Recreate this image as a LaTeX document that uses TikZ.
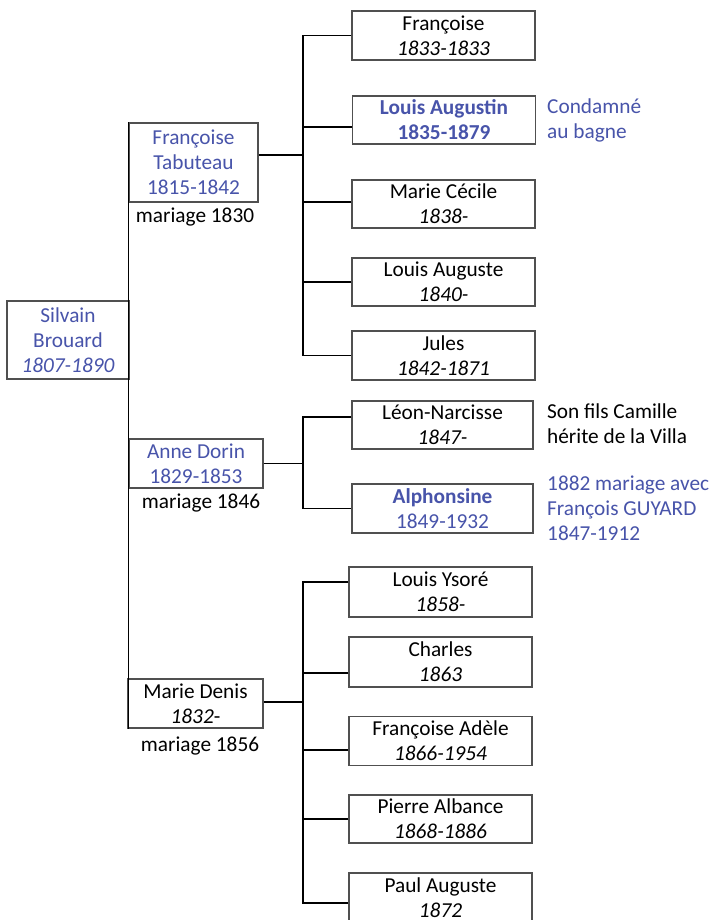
\documentclass[tikz,border=0pt]{standalone}
\usepackage{fontspec}
\setmainfont{Carlito}
\usetikzlibrary{calc}
\definecolor{nameblue}{RGB}{72,84,170}
\definecolor{boxgray}{RGB}{80,80,80}
\begin{document}
\begin{tikzpicture}[x=1pt,y=-1pt,
  pbox/.style={draw=boxgray, line width=1.1pt, fill=white, inner sep=0pt, align=flush center,
    font=\fontsize{21.3}{25}\selectfont},
  bx/.style 2 args={text width=#1pt, minimum height=#2pt},
  conn/.style={line width=1.8pt, black, line join=miter},
  note/.style={anchor=north west, align=flush left, inner sep=0pt, font=\fontsize{21.3}{25}\selectfont},
  marr/.style={inner sep=0pt, font=\fontsize{21.3}{25}\selectfont}]
\useasboundingbox (0,0) rectangle (712,920);
\fill[white] (0,0) rectangle (712,920);
\clip (0,0) rectangle (712,920);

% generation 1
\node[pbox, bx={122}{78}, text=nameblue] (silvain) at (68,340) {Silvain\\Brouard\\\textit{1807-1890}};

% spouses
\node[pbox, bx={129}{79}, text=nameblue] (ft) at (193.5,162.5) {Françoise\\Tabuteau\\1815-1842};
\node[pbox, bx={134}{49}, text=nameblue] (ad) at (196,463.5) {Anne Dorin\\1829-1853};
\node[pbox, bx={135}{49}] (md) at (195.5,703.5) {Marie Denis\\\textit{1832}-};

\node[marr] (m1) at (195,217) {mariage 1830};
\node[marr] (m2) at (201,503) {mariage 1846};
\node[marr] (m3) at (200,746) {mariage 1856};

% children of Françoise Tabuteau
\node[pbox, bx={183}{49}] (c1) at (443.5,35.5) {Françoise\\\textit{1833-1833}};
\node[pbox, bx={183}{48}, text=nameblue] (c2) at (444,120) {\bfseries Louis Augustin\\1835-1879};
\node[pbox, bx={183}{48}] (c3) at (443.5,204) {Marie Cécile\\\textit{1838-}};
\node[pbox, bx={183}{48}] (c4) at (443.5,282) {Louis Auguste\\\textit{1840-}};
\node[pbox, bx={183}{49}] (c5) at (443.5,355.5) {Jules\\\textit{1842-1871}};

% children of Anne Dorin
\node[pbox, bx={181}{48}] (c6) at (442.5,425) {Léon-Narcisse\\\textit{1847-}};
\node[pbox, bx={181}{49}, text=nameblue] (c7) at (442.5,508.5) {\textbf{Alphonsine}\\1849-1932};

% children of Marie Denis
\node[pbox, bx={183}{50}] (c8) at (440.5,592) {Louis Ysoré\\\textit{1858-}};
\node[pbox, bx={183}{50}] (c9) at (440.5,662) {Charles\\\textit{1863}};
\node[pbox, bx={183}{49}] (c10) at (440.5,741) {Françoise Adèle\\\textit{1866-1954}};
\node[pbox, bx={183}{48}] (c11) at (440.5,819) {Pierre Albance\\\textit{1868-1886}};
\node[pbox, bx={183}{49}] (c12) at (440.5,897.5) {Paul Auguste\\\textit{1872}};

% notes
\node[note, text=nameblue] (n1) at (547,99) {Condamné\\au bagne};
\node[note] (n2) at (547,404) {Son fils Camille\\hérite de la Villa};
\node[note, text=nameblue] (n3) at (547,476) {1882 mariage avec\\François GUYARD\\1847-1912};

% connectors
\coordinate (bx) at (303,0);
\draw[conn] (ft.north west) -- (ft.north west |- md.south);

\draw[conn] ([yshift=7.5pt]ft.east) -- ([yshift=7.5pt]ft.east -| bx);
\draw[conn] (c1.west) -- (c1.west -| bx) -- (c5.west -| bx) -- (c5.west);
\draw[conn] ([yshift=-7pt]c2.west) -- ([yshift=-7pt]c2.west -| bx);
\draw[conn] ([yshift=2pt]c3.west) -- ([yshift=2pt]c3.west -| bx);
\draw[conn] (c4.west) -- (c4.west -| bx);

\draw[conn] (ad.east) -- (ad.east -| bx);
\draw[conn] ([yshift=8pt]c6.west) -- ([yshift=8pt]c6.west -| bx) -- (c7.west -| bx) -- (c7.west);

\draw[conn] ([yshift=1.5pt]md.east) -- ([yshift=1.5pt]md.east -| bx);
\draw[conn] ([yshift=10pt]c8.west) -- ([yshift=10pt]c8.west -| bx) -- ([yshift=-5.5pt]c12.west -| bx) -- ([yshift=-5.5pt]c12.west);
\draw[conn] ([yshift=-11pt]c9.west) -- ([yshift=-11pt]c9.west -| bx);
\draw[conn] ([yshift=-9pt]c10.west) -- ([yshift=-9pt]c10.west -| bx);
\draw[conn] (c11.west) -- (c11.west -| bx);
\end{tikzpicture}
\end{document}
